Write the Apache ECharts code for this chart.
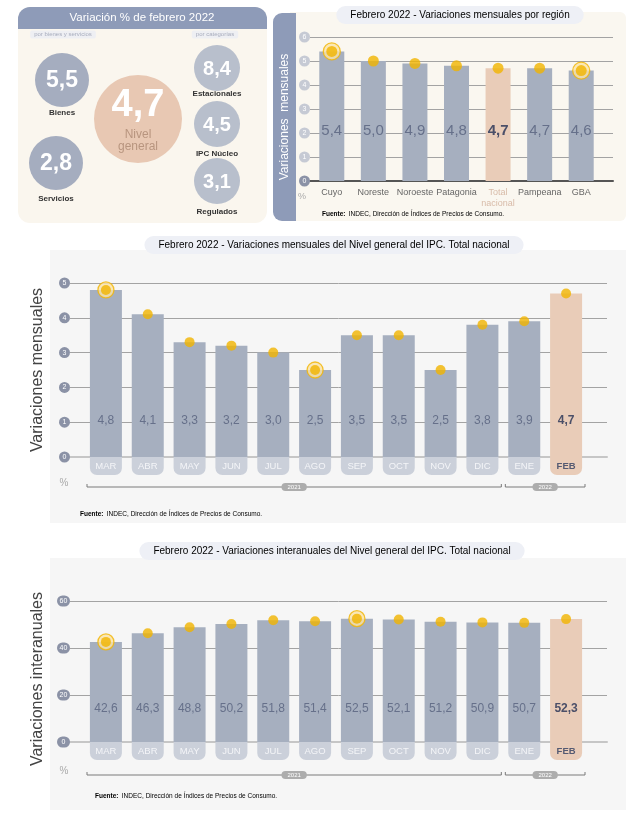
<!DOCTYPE html>
<html>
<head>
<meta charset="utf-8">
<script src="https://cdn.jsdelivr.net/npm/echarts@6/dist/echarts.min.js"></script>
<style>
  html, body { margin: 0; padding: 0; background: #fff; }
  #main { width: 631px; height: 821px; }
</style>
</head>
<body>
<div id="main"></div>
<script>
// Summary circles (top left)
const nivelGeneral = 4.7;
const bsLabels = ["Bienes", "Servicios"];
const bsValues = [5.5, 2.8];
const catLabels = ["Estacionales", "IPC Núcleo", "Regulados"];
const catValues = [8.4, 4.5, 3.1];

// Regions (top right)
const regions = ["Cuyo", "Noreste", "Noroeste", "Patagonia", "Total\nnacional", "Pampeana", "GBA"];
const regionValues = [5.4, 5.0, 4.9, 4.8, 4.7, 4.7, 4.6];
const regionRings = [0, 6];

// Monthly series
const months = ["MAR", "ABR", "MAY", "JUN", "JUL", "AGO", "SEP", "OCT", "NOV", "DIC", "ENE", "FEB"];
const monthlyValues = [4.8, 4.1, 3.3, 3.2, 3.0, 2.5, 3.5, 3.5, 2.5, 3.8, 3.9, 4.7];
const monthlyRings = [0, 5];
const yoyValues = [42.6, 46.3, 48.8, 50.2, 51.8, 51.4, 52.5, 52.1, 51.2, 50.9, 50.7, 52.3];
const yoyRings = [0, 6];
const yearGroups = [["2021", 0, 9], ["2022", 10, 11]];

const FONT = "Liberation Sans, Arial, sans-serif";
const fmt = v => v.toFixed(1).replace(".", ",");
const GOLD = "#f1b400";
const BAR = "#a6afbf";
const PEACH = "#e9ccb8";

const chart = echarts.init(document.getElementById("main"));

const grid = [], xAxis = [], yAxis = [], series = [], graphic = [];

// one bar block = a grid for bars + a wider grid for the horizontal lines
function block(cfg) {
  const gb = grid.length;
  grid.push({ left: cfg.barsL, top: cfg.top, width: cfg.barsW, height: cfg.height });
  grid.push({ left: cfg.linesL, top: cfg.top, width: cfg.linesW, height: cfg.height });
  const xb = xAxis.length;
  xAxis.push({
    type: "category", gridIndex: gb, data: cfg.cats,
    axisTick: { show: false }, axisLine: { show: false },
    axisLabel: cfg.xLabel
  });
  xAxis.push({
    type: "value", gridIndex: gb + 1, min: 0, max: 1,
    axisTick: { show: false }, axisLabel: { show: false }, splitLine: { show: false },
    axisLine: { show: true, lineStyle: cfg.baseLine }
  });
  const yb = yAxis.length;
  yAxis.push({ type: "value", gridIndex: gb, min: 0, max: cfg.max, interval: cfg.interval, show: false });
  yAxis.push({
    type: "value", gridIndex: gb + 1, min: 0, max: cfg.max, interval: cfg.interval,
    axisLine: { show: false }, axisTick: { show: false },
    splitLine: { lineStyle: { color: "#a3a3a3", width: 1 } },
    axisLabel: {
      margin: 0,
      formatter: v => (v === 0 ? "{z|" + v + "}" : "{t|" + v + "}"),
      rich: {
        t: { backgroundColor: cfg.badge, color: "#fff", fontSize: 7, width: cfg.badgeW, height: 11,
             lineHeight: 11, align: "center", borderRadius: 6, fontFamily: FONT },
        z: { backgroundColor: "#8b92a6", color: "#fff", fontSize: 7, width: cfg.badgeW, height: 11,
             lineHeight: 11, align: "center", borderRadius: 6, fontFamily: FONT }
      }
    }
  });
  series.push({
    type: "bar", xAxisIndex: xb, yAxisIndex: yb, barWidth: cfg.barWidth,
    data: cfg.values.map((v, i) => {
      const hi = i === cfg.hiIndex;
      return {
        value: v,
        itemStyle: { color: hi ? PEACH : BAR },
        label: hi ? { fontWeight: "bold", color: "#4b4f68" } : {}
      };
    }),
    label: {
      show: true, position: "insideBottom", distance: cfg.labelDist,
      formatter: p => fmt(p.value), fontSize: cfg.labelSize, color: "#66708a", fontFamily: FONT
    },
    z: 2
  });
  series.push({
    type: "scatter", xAxisIndex: xb, yAxisIndex: yb, symbolSize: cfg.dot + 6, z: 3,
    itemStyle: { color: "#fbe4a6", borderColor: GOLD, borderWidth: 1.3 },
    data: cfg.values.map((v, i) => (cfg.rings.includes(i) ? v : "-"))
  });
  series.push({
    type: "scatter", xAxisIndex: xb, yAxisIndex: yb, symbolSize: cfg.dot, z: 4,
    itemStyle: { color: GOLD }, data: cfg.values
  });
}

const monthPill = {
  interval: 0, margin: 0,
  formatter: (v, i) => (i === months.length - 1 ? "{h|" + v + "}" : "{p|" + v + "}"),
  rich: {
    p: { backgroundColor: "#cbd0da", color: "#f4f5f8", fontSize: 9.5, width: 32, height: 18, lineHeight: 18,
         align: "center", borderRadius: [0, 0, 7, 7], fontFamily: FONT },
    h: { backgroundColor: PEACH, color: "#555a72", fontSize: 9.5, fontWeight: "bold", width: 32, height: 18,
         lineHeight: 18, align: "center", borderRadius: [0, 0, 7, 7], fontFamily: FONT }
  }
};

// top right: regions
block({
  cats: regions, values: regionValues, rings: regionRings, hiIndex: 4, dot: 11,
  barsL: 311, barsW: 291, linesL: 310, linesW: 303, top: 37, height: 144,
  max: 6, interval: 1, barWidth: 25, labelDist: 43, labelSize: 15,
  badge: "#c6cad4", badgeW: 11,
  baseLine: { color: "#555", width: 2 },
  xLabel: {
    interval: 0, margin: 6, fontSize: 9, color: "#666", lineHeight: 11, fontFamily: FONT,
    formatter: v => (v.indexOf("Total") === 0 ? "{t|" + v + "}" : v),
    rich: { t: { color: "#d8bba8", fontSize: 9, lineHeight: 11, fontFamily: FONT } }
  }
});

// middle: monthly
block({
  cats: months, values: monthlyValues, rings: monthlyRings, hiIndex: 11, dot: 10,
  barsL: 85, barsW: 502, linesL: 70, linesW: 537, top: 283, height: 174,
  max: 5, interval: 1, barWidth: 32, labelDist: 30, labelSize: 12,
  badge: "#8b92a6", badgeW: 11,
  baseLine: { color: "#c6c6c6", width: 2 },
  xLabel: monthPill
});

// bottom: year on year
block({
  cats: months, values: yoyValues, rings: yoyRings, hiIndex: 11, dot: 10,
  barsL: 85, barsW: 502, linesL: 70, linesW: 537, top: 601, height: 141,
  max: 60, interval: 20, barWidth: 32, labelDist: 27, labelSize: 12,
  badge: "#8b92a6", badgeW: 13,
  baseLine: { color: "#c6c6c6", width: 2 },
  xLabel: monthPill
});

// ---- backgrounds and decorations ----
graphic.push(
  { type: "rect", z: -10, shape: { x: 18, y: 7, width: 249, height: 216, r: 12 }, style: { fill: "#faf6ee" } },
  { type: "rect", z: -9, shape: { x: 18, y: 7, width: 249, height: 22, r: [12, 12, 0, 0] }, style: { fill: "#8e9bb8" } },
  { type: "rect", z: -10, shape: { x: 290, y: 12, width: 336, height: 209, r: [0, 6, 6, 0] }, style: { fill: "#faf7f0" } },
  { type: "rect", z: -9, shape: { x: 273, y: 13, width: 23, height: 208, r: [9, 0, 0, 9] }, style: { fill: "#8e9bb8" } },
  { type: "rect", z: -10, shape: { x: 50, y: 250, width: 576, height: 273 }, style: { fill: "#f6f6f6" } },
  { type: "rect", z: -10, shape: { x: 50, y: 558, width: 576, height: 252 }, style: { fill: "#f6f6f6" } }
);

function txt(x, y, text, style) {
  graphic.push({
    type: "text", x, y, z: 50,
    style: Object.assign({ text, align: "center", verticalAlign: "middle", fontFamily: FONT }, style)
  });
}
function vtxt(x, y, text, style) {
  graphic.push({
    type: "text", x, y, z: 50, rotation: Math.PI / 2,
    style: Object.assign({ text, align: "center", verticalAlign: "middle", fontFamily: FONT }, style)
  });
}

// top-left header
txt(142, 18, "Variación % de febrero 2022", { fill: "#fff", fontSize: 11.5 });
txt(63, 34.5, "por bienes y servicios", { fill: "#a8adbd", fontSize: 6, backgroundColor: "#eeeff3", padding: [1, 4], borderRadius: 2 });
txt(215, 34.5, "por categorías", { fill: "#a8adbd", fontSize: 6, backgroundColor: "#eeeff3", padding: [1, 4], borderRadius: 2 });

// circles
function bubble(cx, cy, r, color, value, size, label, labelY) {
  graphic.push({ type: "circle", z: 5, shape: { cx, cy, r }, style: { fill: color } });
  txt(cx, cy + 1, fmt(value), { fill: "#fff", fontSize: size, fontWeight: "bold" });
  if (label) txt(cx, labelY, label, { fill: "#333", fontSize: 8, fontWeight: "bold" });
}
const bsPos = [[62, 80, 113], [56, 163, 199]];
bsValues.forEach((v, i) => bubble(bsPos[i][0], bsPos[i][1], 27, "#a5adbf", v, 23, bsLabels[i], bsPos[i][2]));
const catPos = [[217, 68, 94], [217, 124, 154], [217, 181, 212]];
catValues.forEach((v, i) => bubble(catPos[i][0], catPos[i][1], 23, "#b8bfcc", v, 20, catLabels[i], catPos[i][2]));
graphic.push({ type: "circle", z: 5, shape: { cx: 138, cy: 119, r: 44 }, style: { fill: "#e8c8b3" } });
txt(138, 106, fmt(nivelGeneral), { fill: "#fff", fontSize: 38, fontWeight: "bold" });
txt(138, 141, "Nivel\ngeneral", { fill: "#b8957f", fontSize: 12, lineHeight: 12 });

// titles
const titleRich = {
  a: { color: "#8c8c8c", fontSize: 10, fontFamily: FONT },
  b: { color: "#555", fontSize: 10, fontFamily: FONT }
};
txt(460, 15, "{a|Febrero 2022 }{b|- Variaciones mensuales por región}",
  { rich: titleRich, backgroundColor: "#eef0f6", padding: [4, 14], borderRadius: 9 });
txt(334, 245, "{a|Febrero 2022 }{b|- Variaciones mensuales del Nivel general del IPC.}{a| Total nacional}",
  { rich: titleRich, backgroundColor: "#eef0f6", padding: [4, 14], borderRadius: 9 });
txt(332, 551, "{a|Febrero 2022 }{b|- Variaciones interanuales del Nivel general del IPC.}{a| Total nacional}",
  { rich: titleRich, backgroundColor: "#eef0f6", padding: [4, 14], borderRadius: 9 });

// axis names
vtxt(285, 117, "Variaciones  mensuales", { fill: "#fff", fontSize: 12 });
vtxt(38, 370, "Variaciones mensuales", { fill: "#444", fontSize: 16 });
vtxt(38, 679, "Variaciones interanuales", { fill: "#444", fontSize: 16 });

// % marks and sources
txt(302, 197, "%", { fill: "#aaa", fontSize: 9 });
txt(64, 483, "%", { fill: "#aaa", fontSize: 10 });
txt(64, 771, "%", { fill: "#aaa", fontSize: 10 });
const srcRich = {
  b: { fontWeight: "bold", color: "#555", fontSize: 6.5, fontFamily: FONT },
  n: { color: "#777", fontSize: 6.5, fontFamily: FONT }
};
function source(x, y) {
  txt(x, y, "{b|Fuente:} {n|INDEC, Dirección de Índices de Precios de Consumo.}", { rich: srcRich, align: "left" });
}
source(322, 214);
source(80, 514);
source(95, 796);

// year brackets under the month axes
function brackets(left, width, y) {
  const bw = width / months.length;
  yearGroups.forEach(([label, from, to]) => {
    const x1 = left + from * bw + 2, x2 = left + (to + 1) * bw - 2;
    graphic.push({
      type: "polyline", z: 20,
      shape: { points: [[x1, y - 3], [x1, y], [x2, y], [x2, y - 3]] },
      style: { stroke: "#7a7a7a", lineWidth: 1, fill: null }
    });
    txt((x1 + x2) / 2, y, label, { fill: "#fff", fontSize: 6, backgroundColor: "#adadad", padding: [1, 6], borderRadius: 4 });
  });
}
brackets(85, 502, 487);
brackets(85, 502, 775);

chart.setOption({
  animation: false,
  textStyle: { fontFamily: FONT },
  grid, xAxis, yAxis, series, graphic
});
</script>
</body>
</html>
